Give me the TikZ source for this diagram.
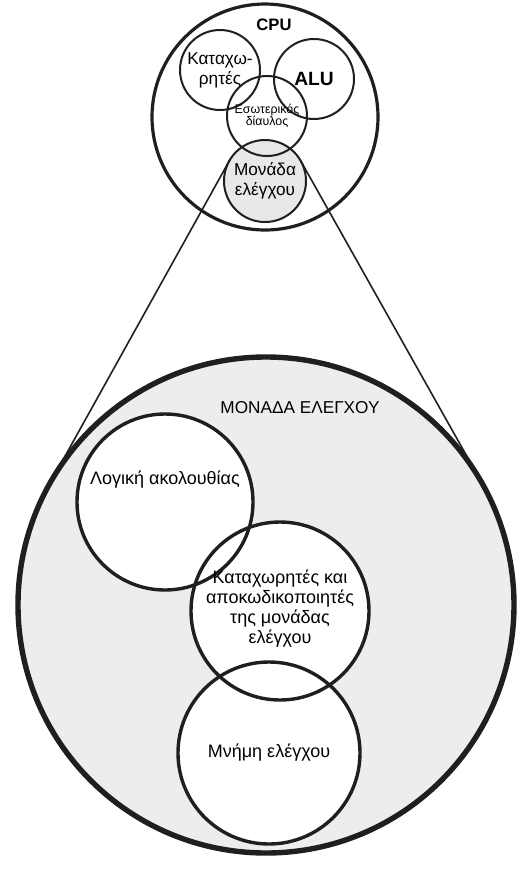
\documentclass[tikz,border=0pt]{standalone}
\usepackage{fontspec}
\setmainfont{Liberation Sans}

\begin{document}
\begin{tikzpicture}[x=0.5pt,y=-0.5pt,
	ring/.style={circle,draw=black!88,inner sep=0pt,outer sep=0pt,align=center},
	bigring/.style={ring,line width=1.7pt,font=\fontsize{9}{10}\selectfont},
	smallring/.style={ring,line width=1pt,font=\fontsize{8.6}{10}\selectfont}]
	\useasboundingbox (0,0) rectangle (519,869);
	
	\node[ring,line width=2.7pt,fill=black!7,minimum size=248pt] (mu) at (266,605) {};
	\node[font=\fontsize{8.6}{10}\selectfont] (mutitle) at (300,408) {ΜΟΝΑΔΑ ΕΛΕΓΧΟΥ};
	
	\fill[white] (165,502) circle[radius=88] (280,611) circle[radius=89] (269,753) circle[radius=91];
	\node[bigring,minimum size=88pt] (seq) at (165,502) {Λογική ακολουθίας\\[14pt]};
	\node[bigring,minimum size=89pt] (dec) at (280,611) {\\[-6pt]Καταχωρητές και\\αποκωδικοποιητές\\της μονάδας\\ελέγχου};
	\node[bigring,minimum size=91pt] (mem) at (269,753) {Μνήμη ελέγχου};
	
	\node[ring,line width=1.6pt,minimum size=113pt] (cpu) at (265,117) {};
	\node[font=\bfseries\fontsize{8.3}{10}\selectfont] (cputitle) at (274,25) {CPU};
	\fill[black!9] (265,181) circle[radius=41];
	\node[smallring,minimum size=40pt] (reg) at (220,70) {Καταχω-\\ρητές};
	\node[smallring,minimum size=40pt,font=\bfseries\fontsize{9.6}{10}\selectfont] (alu) at (314,79) {ALU};
	\node[smallring,minimum size=40pt,font=\fontsize{6.2}{6}\selectfont] (bus) at (267,116) {Εσωτερικός\\δίαυλος};
	\node[smallring,minimum size=41pt] (cu) at (265,181) {\\[-4pt]Μονάδα\\ελέγχου};
	
	\draw[line width=0.8pt,black!88] (cu.150.8) -- (mu.150.8);
	\draw[line width=0.8pt,black!88] (cu.29.2) -- (mu.29.2);
\end{tikzpicture}
\end{document}
